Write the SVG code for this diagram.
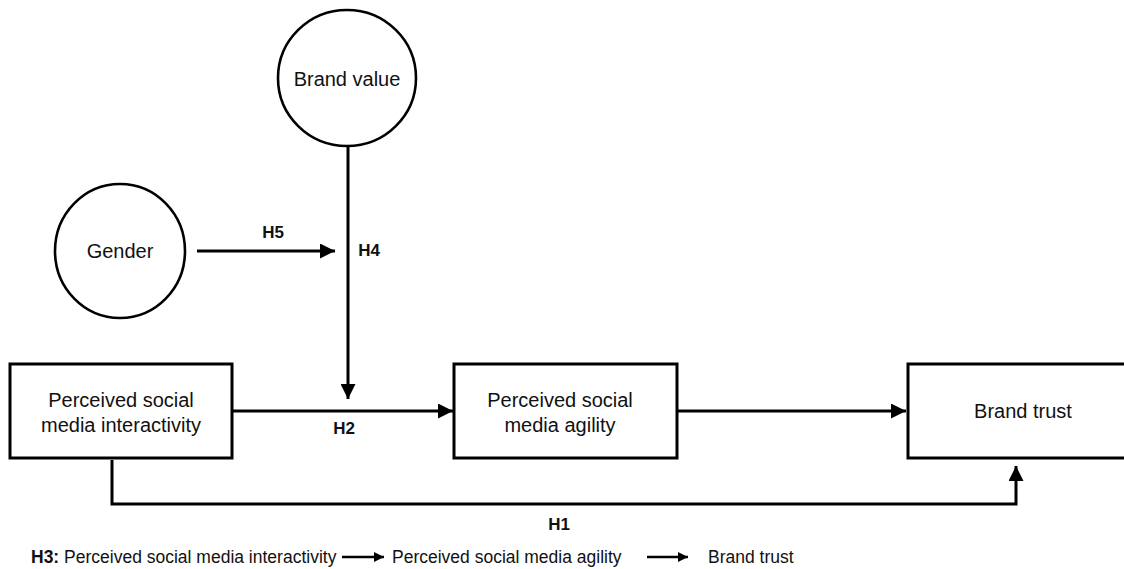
<svg xmlns="http://www.w3.org/2000/svg" width="1124" height="569" viewBox="0 0 1124 569">
  <defs>
    <style>
      .shape { fill: #fff; stroke: #000; stroke-width: 3; }
      .circ { fill: #fff; stroke: #000; stroke-width: 2.6; }
      .node { font-family: "Liberation Sans", Arial, sans-serif; font-size: 20px; fill: #111; text-anchor: middle; }
      .lab { font-family: "Liberation Sans", Arial, sans-serif; font-size: 17px; font-weight: bold; fill: #111; text-anchor: middle; }
      .leg { font-family: "Liberation Sans", Arial, sans-serif; font-size: 17.5px; fill: #111; }
      .conn { fill: none; stroke: #000; stroke-width: 3; }
      .thin { fill: none; stroke: #000; stroke-width: 2.5; }
    </style>
    <marker id="ah" viewBox="0 0 10 10" refX="10" refY="5" markerUnits="userSpaceOnUse" markerWidth="15" markerHeight="15" orient="auto">
      <path d="M0,0 L10,5 L0,10 z" fill="#000"/>
    </marker>
    <marker id="ahs" viewBox="0 0 10 10" refX="10" refY="5" markerUnits="userSpaceOnUse" markerWidth="11" markerHeight="10" orient="auto">
      <path d="M0,0 L10,5 L0,10 z" fill="#000"/>
    </marker>
  </defs>
  <rect width="1124" height="569" fill="#fff"/>

  <g id="connectors">
    <line class="conn" x1="348" y1="146" x2="348" y2="399" marker-end="url(#ah)"/>
    <line class="conn" x1="197" y1="251" x2="335" y2="251" marker-end="url(#ah)"/>
    <line class="conn" x1="232" y1="411" x2="453" y2="411" marker-end="url(#ah)"/>
    <line class="conn" x1="677" y1="411" x2="906" y2="411" marker-end="url(#ah)"/>
    <polyline class="conn" points="112,460 112,504 1016,504 1016,466" marker-end="url(#ah)"/>
    <text class="lab" x="273" y="238">H5</text>
    <text class="lab" x="369" y="256">H4</text>
    <text class="lab" x="344" y="434">H2</text>
    <text class="lab" x="559" y="530">H1</text>
  </g>

  <g id="brand-value">
    <ellipse class="circ" cx="347" cy="78" rx="69" ry="68"/>
    <text class="node" x="347" y="86">Brand value</text>
  </g>

  <g id="gender">
    <ellipse class="circ" cx="120" cy="251" rx="65" ry="67"/>
    <text class="node" x="120" y="258">Gender</text>
  </g>

  <g id="interactivity">
    <rect class="shape" x="10" y="364" width="222" height="94"/>
    <text class="node" x="121" y="407">Perceived social</text>
    <text class="node" x="121" y="432">media interactivity</text>
  </g>

  <g id="agility">
    <rect class="shape" x="454" y="364" width="223" height="94"/>
    <text class="node" x="560" y="407">Perceived social</text>
    <text class="node" x="560" y="432">media agility</text>
  </g>

  <g id="brand-trust">
    <rect class="shape" x="908" y="364" width="220" height="94"/>
    <text class="node" x="1023" y="418">Brand trust</text>
  </g>

  <g id="legend">
    <text class="leg" x="31" y="563"><tspan font-weight="bold">H3:</tspan> Perceived social media interactivity</text>
    <line class="thin" x1="342" y1="557" x2="384" y2="557" marker-end="url(#ahs)"/>
    <text class="leg" x="392" y="563">Perceived social media agility</text>
    <line class="thin" x1="647" y1="557" x2="688" y2="557" marker-end="url(#ahs)"/>
    <text class="leg" x="708" y="563">Brand trust</text>
  </g>
</svg>
